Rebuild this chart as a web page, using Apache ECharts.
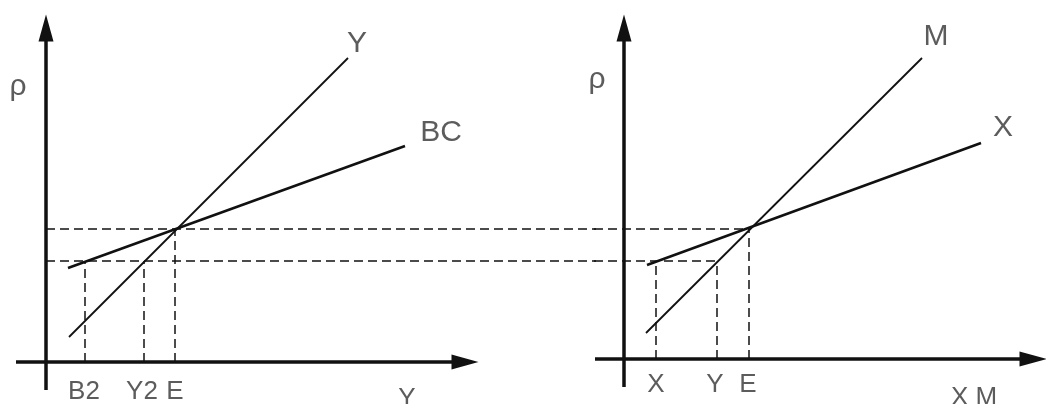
<!DOCTYPE html>
<html>
<head>
<meta charset="utf-8">
<script src="https://cdn.jsdelivr.net/npm/echarts@6/dist/echarts.min.js"></script>
<style>
  html, body { margin: 0; background: #fff; }
  #chart { width: 1046px; height: 404px; }
</style>
</head>
<body>
<div id="chart"></div>
<script>
// left panel: output Y against BC
const leftAxisX = [-3, 41.9]
const leftAxisY = [-2.8, 33.4]
const leftY = [[2.3, 2.5], [30.2, 30.4]]
const leftBC = [[2.2, 9.4], [35.9, 21.6]]
const leftLevels = [13.3, 10.1]
const leftDrops = [[3.9, 10.1], [9.8, 10.1], [12.9, 13.3]] // B2, Y2, E
const leftCurveLabels = [['ρ', -2.8, 27.5], ['Y', 31.1, 31.8], ['BC', 39.5, 22.9]]
const leftTickLabels = [['B2', 3.8, -3.0], ['Y2', 9.6, -3.0], ['E', 12.9, -3.0], ['Y', 36.1, -3.7]]

// right panel: exports X and imports M
const rightAxisX = [-2.9, 40.9]
const rightAxisY = [-2.8, 33.1]
const rightM = [[2.2, 2.6], [29.8, 30.1]]
const rightX = [[2.3, 9.4], [35.7, 21.6]]
const rightLevels = [[12.5, 13.0], [9.3, 9.8]] // dashed ends at [x, level]
const rightDrops = [[3.2, 9.8], [9.3, 9.8], [12.5, 13.0]] // X, Y, E
const rightCurveLabels = [['ρ', -2.7, 27.9], ['M', 31.2, 32.2], ['X', 37.9, 23.1]]
const rightTickLabels = [['X', 3.2, -2.6], ['Y', 9.1, -2.6], ['E', 12.4, -2.6], ['X M', 35.0, -3.9]]

const ink = '#111'
const font = 'Liberation Sans, Arial, sans-serif'

function seg(pts, gi, width, dashed) {
  return {
    type: 'line', xAxisIndex: gi, yAxisIndex: gi, data: pts,
    showSymbol: false, silent: true, animation: false,
    lineStyle: { color: ink, width: width, type: dashed ? [9, 5] : 'solid' },
  }
}

function axes(ax, ay, gi) {
  return {
    type: 'line', xAxisIndex: gi, yAxisIndex: gi, data: [],
    silent: true, animation: false,
    markLine: {
      silent: true, animation: false,
      symbol: ['none', 'triangle'], symbolSize: [15, 27],
      label: { show: false },
      lineStyle: { color: ink, width: 3.5, type: 'solid' },
      itemStyle: { color: ink },
      data: [
        [{ coord: [ax[0], 0] }, { coord: [ax[1], 0] }],
        [{ coord: [0, ay[0]] }, { coord: [0, ay[1]] }],
      ],
    },
  }
}

function labels(list, gi, size) {
  return {
    type: 'scatter', xAxisIndex: gi, yAxisIndex: gi, symbolSize: 0,
    clip: false, silent: true, animation: false,
    data: list.map((l) => ({ name: l[0], value: [l[1], l[2]] })),
    label: {
      show: true, position: 'inside', formatter: '{b}',
      fontSize: size, color: '#333', fontFamily: font,
    },
  }
}

const series = [
  axes(leftAxisX, leftAxisY, 0),
  seg(leftY, 0, 1.8),
  seg(leftBC, 0, 2.6),
  ...leftLevels.map((v) => seg([[0, v], [55, v]], 0, 1.5, true)),
  ...leftDrops.map((d) => seg([[d[0], 0], d], 0, 1.5, true)),
  labels(leftCurveLabels, 0, 30),
  labels(leftTickLabels, 0, 26),

  axes(rightAxisX, rightAxisY, 1),
  seg(rightM, 1, 1.8),
  seg(rightX, 1, 2.6),
  ...rightLevels.map((d) => seg([[-3, d[1]], d], 1, 1.5, true)),
  ...rightDrops.map((d) => seg([[d[0], 0], d], 1, 1.5, true)),
  labels(rightCurveLabels, 1, 30),
  labels(rightTickLabels, 1, 26),
]

const hiddenAxis = {
  type: 'value', axisLine: { show: false }, axisTick: { show: false },
  axisLabel: { show: false }, splitLine: { show: false },
}

const chart = echarts.init(document.getElementById('chart'))
chart.setOption({
  backgroundColor: '#fff',
  animation: false,
  grid: [
    { left: 16, top: 12, width: 580, height: 380 },
    { left: 594, top: 9, width: 452, height: 380 },
  ],
  xAxis: [
    { ...hiddenAxis, gridIndex: 0, min: -3, max: 55 },
    { ...hiddenAxis, gridIndex: 1, min: -3, max: 42.2 },
  ],
  yAxis: [
    { ...hiddenAxis, gridIndex: 0, min: -3, max: 35 },
    { ...hiddenAxis, gridIndex: 1, min: -3, max: 35 },
  ],
  series: series,
})
</script>
</body>
</html>
